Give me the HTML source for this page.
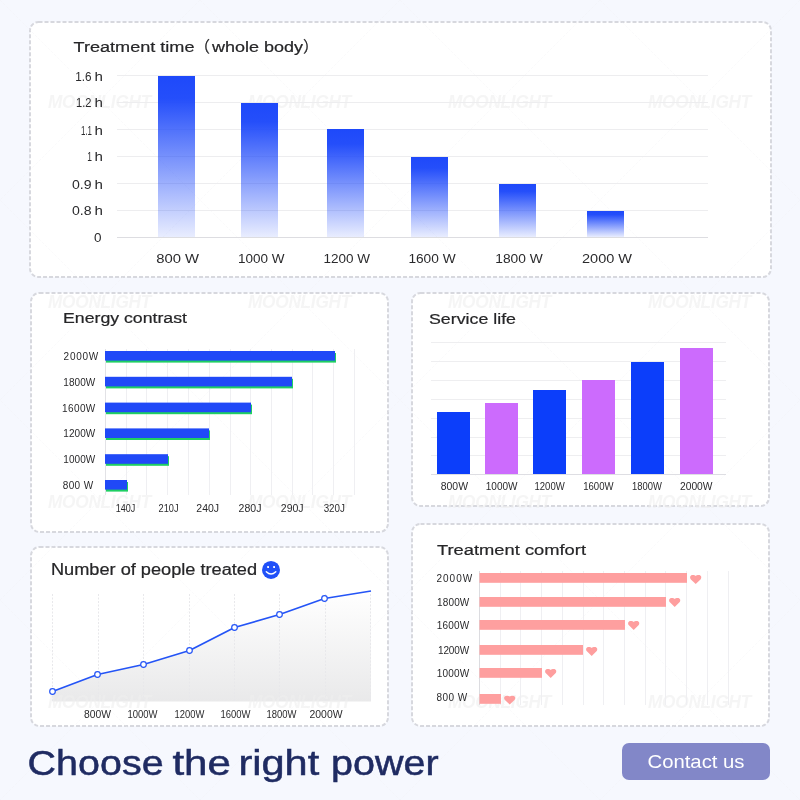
<!DOCTYPE html>
<html lang="en"><head><meta charset="utf-8"><title>Choose the right power</title>
<style>
html,body{margin:0;padding:0;background:#f6f8fe;}
body{width:800px;height:800px;overflow:hidden;position:relative;font-family:"Liberation Sans","Noto Sans CJK SC",sans-serif;}
svg{position:absolute;left:0;top:0;display:block}
text{font-family:"Liberation Sans","Noto Sans CJK SC",sans-serif;fill:#2a2a2c}
.wm{font-style:italic;font-weight:bold;font-size:19px;fill:#eeeeef;fill-opacity:0.6;letter-spacing:-0.3px}
.t{font-size:15.5px;fill:#262628;stroke:#262628;stroke-width:0.22px}
.s{font-size:10px;fill:#2a2a2c}
.m{font-size:13px;fill:#2a2a2c}
.card{fill:#fff;stroke:#d7d8de;stroke-width:2;stroke-dasharray:4 2}
.g{stroke:#ebebee;stroke-width:1}
</style></head><body>
<svg width="800" height="800" viewBox="0 0 800 800">
<defs>
<linearGradient id="bg" x1="0" y1="0" x2="0" y2="1"><stop offset="0" stop-color="#1e49fa"/><stop offset="0.14" stop-color="#1e49fa" stop-opacity="0.97"/><stop offset="1" stop-color="#1e49fa" stop-opacity="0.1"/></linearGradient>
<linearGradient id="ar" x1="0" y1="0" x2="0" y2="1"><stop offset="0" stop-color="#ffffff"/><stop offset="1" stop-color="#e9e9ea"/></linearGradient>
<path id="heart" d="M5.8 8.9 L1 4.3 C-0.4 2.8 0 0 2.9 0 C4.2 0 5.2 0.4 5.8 0.9 C6.4 0.4 7.4 0 8.7 0 C11.6 0 12 2.8 10.6 4.3 Z" fill="#fe9e9e"/>
</defs>
<rect width="800" height="800" fill="#f6f8fe"/>

<rect class="card" x="30" y="22" width="741" height="255" rx="8.5"/>
<rect class="card" x="31" y="293" width="357" height="239" rx="8.5"/>
<rect class="card" x="412" y="293" width="357" height="213" rx="8.5"/>
<rect class="card" x="31" y="547" width="357" height="179" rx="8.5"/>
<rect class="card" x="412" y="524" width="357" height="202" rx="8.5"/>
<g stroke="#eeeef3" stroke-opacity="0.3" stroke-width="1" fill="none" stroke-dasharray="3 1.5">
<path d="M-800 0 L0 800"/><path d="M0 0 L-800 800"/>
<path d="M-600 0 L200 800"/><path d="M200 0 L-600 800"/>
<path d="M-400 0 L400 800"/><path d="M400 0 L-400 800"/>
<path d="M-200 0 L600 800"/><path d="M600 0 L-200 800"/>
<path d="M0 0 L800 800"/><path d="M800 0 L0 800"/>
<path d="M200 0 L1000 800"/><path d="M1000 0 L200 800"/>
<path d="M400 0 L1200 800"/><path d="M1200 0 L400 800"/>
<path d="M600 0 L1400 800"/><path d="M1400 0 L600 800"/>
<path d="M800 0 L1600 800"/><path d="M1600 0 L800 800"/>
</g>
<path d="M52.5 691.5 L97.5 674.5 L143.5 664.5 L189.5 650.5 L234.5 627.5 L279.5 614.5 L324.5 598.5 L371 591 L371 701.5 L52.5 701.5 Z" fill="url(#ar)"/>
<text class="wm" x="48" y="107.5" textLength="103" lengthAdjust="spacingAndGlyphs">MOONLIGHT</text>
<text class="wm" x="248" y="107.5" textLength="103" lengthAdjust="spacingAndGlyphs">MOONLIGHT</text>
<text class="wm" x="448" y="107.5" textLength="103" lengthAdjust="spacingAndGlyphs">MOONLIGHT</text>
<text class="wm" x="648" y="107.5" textLength="103" lengthAdjust="spacingAndGlyphs">MOONLIGHT</text>
<text class="wm" x="48" y="307.5" textLength="103" lengthAdjust="spacingAndGlyphs">MOONLIGHT</text>
<text class="wm" x="248" y="307.5" textLength="103" lengthAdjust="spacingAndGlyphs">MOONLIGHT</text>
<text class="wm" x="448" y="307.5" textLength="103" lengthAdjust="spacingAndGlyphs">MOONLIGHT</text>
<text class="wm" x="648" y="307.5" textLength="103" lengthAdjust="spacingAndGlyphs">MOONLIGHT</text>
<text class="wm" x="48" y="507.5" textLength="103" lengthAdjust="spacingAndGlyphs">MOONLIGHT</text>
<text class="wm" x="248" y="507.5" textLength="103" lengthAdjust="spacingAndGlyphs">MOONLIGHT</text>
<text class="wm" x="448" y="507.5" textLength="103" lengthAdjust="spacingAndGlyphs">MOONLIGHT</text>
<text class="wm" x="648" y="507.5" textLength="103" lengthAdjust="spacingAndGlyphs">MOONLIGHT</text>
<text class="wm" x="48" y="707.5" textLength="103" lengthAdjust="spacingAndGlyphs">MOONLIGHT</text>
<text class="wm" x="248" y="707.5" textLength="103" lengthAdjust="spacingAndGlyphs">MOONLIGHT</text>
<text class="wm" x="448" y="707.5" textLength="103" lengthAdjust="spacingAndGlyphs">MOONLIGHT</text>
<text class="wm" x="648" y="707.5" textLength="103" lengthAdjust="spacingAndGlyphs">MOONLIGHT</text>
<text class="t" x="73.5" y="52" textLength="121" lengthAdjust="spacingAndGlyphs">Treatment time</text>
<text class="t" x="194.5" y="52">（</text>
<text class="t" x="212" y="52" textLength="91" lengthAdjust="spacingAndGlyphs">whole body</text>
<text class="t" x="303" y="52">）</text>
<line x1="117" x2="708" y1="75.5" y2="75.5" stroke="#ededef" stroke-width="1"/>
<text class="m" x="75.20" y="81" textLength="16.30" lengthAdjust="spacingAndGlyphs">1.6</text>
<text class="m" x="94.40" y="81" textLength="8.40" lengthAdjust="spacingAndGlyphs">h</text>
<line x1="117" x2="708" y1="102.5" y2="102.5" stroke="#ededef" stroke-width="1"/>
<text class="m" x="76.10" y="107" textLength="15.40" lengthAdjust="spacingAndGlyphs">1.2</text>
<text class="m" x="94.40" y="107" textLength="8.40" lengthAdjust="spacingAndGlyphs">h</text>
<line x1="117" x2="708" y1="129.5" y2="129.5" stroke="#ededef" stroke-width="1"/>
<text class="m" x="81.00" y="134.8" textLength="11.00" lengthAdjust="spacingAndGlyphs">1.1</text>
<text class="m" x="94.40" y="134.8" textLength="8.40" lengthAdjust="spacingAndGlyphs">h</text>
<line x1="117" x2="708" y1="156.5" y2="156.5" stroke="#ededef" stroke-width="1"/>
<text class="m" x="87.30" y="161" textLength="4.70" lengthAdjust="spacingAndGlyphs">1</text>
<text class="m" x="94.40" y="161" textLength="8.40" lengthAdjust="spacingAndGlyphs">h</text>
<line x1="117" x2="708" y1="183.5" y2="183.5" stroke="#ededef" stroke-width="1"/>
<text class="m" x="71.90" y="188.6" textLength="19.60" lengthAdjust="spacingAndGlyphs">0.9</text>
<text class="m" x="94.40" y="188.6" textLength="8.40" lengthAdjust="spacingAndGlyphs">h</text>
<line x1="117" x2="708" y1="210.5" y2="210.5" stroke="#ededef" stroke-width="1"/>
<text class="m" x="71.90" y="215" textLength="19.60" lengthAdjust="spacingAndGlyphs">0.8</text>
<text class="m" x="94.40" y="215" textLength="8.40" lengthAdjust="spacingAndGlyphs">h</text>
<line x1="117" x2="708" y1="237.5" y2="237.5" stroke="#dddde1" stroke-width="1"/>
<text class="m" x="93.90" y="241.8" textLength="7.50" lengthAdjust="spacingAndGlyphs">0</text>
<rect x="158" y="76" width="37" height="161" fill="url(#bg)"/>
<text class="m" x="156.2" y="263" textLength="42.9" lengthAdjust="spacingAndGlyphs">800 W</text>
<rect x="241" y="103" width="37" height="134" fill="url(#bg)"/>
<text class="m" x="238.10000000000002" y="263" textLength="46.5" lengthAdjust="spacingAndGlyphs">1000 W</text>
<rect x="327" y="129" width="37" height="108" fill="url(#bg)"/>
<text class="m" x="323.6" y="263" textLength="46.5" lengthAdjust="spacingAndGlyphs">1200 W</text>
<rect x="411" y="157" width="37" height="80" fill="url(#bg)"/>
<text class="m" x="408.4" y="263" textLength="47.2" lengthAdjust="spacingAndGlyphs">1600 W</text>
<rect x="499" y="184" width="37" height="53" fill="url(#bg)"/>
<text class="m" x="495.29999999999995" y="263" textLength="47.5" lengthAdjust="spacingAndGlyphs">1800 W</text>
<rect x="587" y="211" width="37" height="26" fill="url(#bg)"/>
<text class="m" x="582.0" y="263" textLength="50" lengthAdjust="spacingAndGlyphs">2000 W</text>
<text class="t" x="63" y="323" textLength="124" lengthAdjust="spacingAndGlyphs">Energy contrast</text>
<line x1="105.50" x2="105.50" y1="349" y2="495" stroke="#e2e2e6" stroke-width="1"/>
<line x1="126.50" x2="126.50" y1="349" y2="495" stroke="#efeff2" stroke-width="1"/>
<line x1="146.50" x2="146.50" y1="349" y2="495" stroke="#efeff2" stroke-width="1"/>
<line x1="167.50" x2="167.50" y1="349" y2="495" stroke="#efeff2" stroke-width="1"/>
<line x1="188.50" x2="188.50" y1="349" y2="495" stroke="#efeff2" stroke-width="1"/>
<line x1="209.50" x2="209.50" y1="349" y2="495" stroke="#efeff2" stroke-width="1"/>
<line x1="230.50" x2="230.50" y1="349" y2="495" stroke="#efeff2" stroke-width="1"/>
<line x1="250.50" x2="250.50" y1="349" y2="495" stroke="#efeff2" stroke-width="1"/>
<line x1="271.50" x2="271.50" y1="349" y2="495" stroke="#efeff2" stroke-width="1"/>
<line x1="292.50" x2="292.50" y1="349" y2="495" stroke="#efeff2" stroke-width="1"/>
<line x1="312.50" x2="312.50" y1="349" y2="495" stroke="#efeff2" stroke-width="1"/>
<line x1="333.50" x2="333.50" y1="349" y2="495" stroke="#efeff2" stroke-width="1"/>
<line x1="354.50" x2="354.50" y1="349" y2="495" stroke="#efeff2" stroke-width="1"/>
<rect x="106" y="353.0" width="230" height="9.6" fill="#1fcf62"/>
<rect x="105" y="351.0" width="230" height="9.6" fill="#2049f7"/>
<text class="s" x="63.6" y="360.0" textLength="34.6" lengthAdjust="spacing">2000W</text>
<rect x="106" y="378.8" width="187" height="9.6" fill="#1fcf62"/>
<rect x="105" y="376.8" width="187" height="9.6" fill="#2049f7"/>
<text class="s" x="63.3" y="385.8" textLength="32" lengthAdjust="spacing">1800W</text>
<rect x="106" y="404.6" width="146" height="9.6" fill="#1fcf62"/>
<rect x="105" y="402.6" width="146" height="9.6" fill="#2049f7"/>
<text class="s" x="62" y="411.6" textLength="33.3" lengthAdjust="spacing">1600W</text>
<rect x="106" y="430.4" width="104" height="9.6" fill="#1fcf62"/>
<rect x="105" y="428.4" width="104" height="9.6" fill="#2049f7"/>
<text class="s" x="63.3" y="437.4" textLength="32" lengthAdjust="spacing">1200W</text>
<rect x="106" y="456.2" width="63" height="9.6" fill="#1fcf62"/>
<rect x="105" y="454.2" width="63" height="9.6" fill="#2049f7"/>
<text class="s" x="63.3" y="463.2" textLength="32" lengthAdjust="spacing">1000W</text>
<rect x="106" y="482.0" width="22" height="9.6" fill="#1fcf62"/>
<rect x="105" y="480.0" width="22" height="9.6" fill="#2049f7"/>
<text class="s" x="62.7" y="489.0" textLength="30.5" lengthAdjust="spacing">800 W</text>
<text class="s" x="115.75" y="512" textLength="19.55" lengthAdjust="spacingAndGlyphs">140J</text>
<text class="s" x="158.60" y="512" textLength="19.90" lengthAdjust="spacingAndGlyphs">210J</text>
<text class="s" x="196.30" y="512" textLength="22.80" lengthAdjust="spacingAndGlyphs">240J</text>
<text class="s" x="238.60" y="512" textLength="22.80" lengthAdjust="spacingAndGlyphs">280J</text>
<text class="s" x="280.80" y="512" textLength="22.80" lengthAdjust="spacingAndGlyphs">290J</text>
<text class="s" x="323.70" y="512" textLength="21.20" lengthAdjust="spacingAndGlyphs">320J</text>
<text class="t" x="429" y="323.5" textLength="87" lengthAdjust="spacingAndGlyphs">Service life</text>
<line x1="431" x2="726" y1="342.5" y2="342.5" stroke="#eeeef0" stroke-width="1"/>
<line x1="431" x2="726" y1="361.5" y2="361.5" stroke="#eeeef0" stroke-width="1"/>
<line x1="431" x2="726" y1="380.5" y2="380.5" stroke="#eeeef0" stroke-width="1"/>
<line x1="431" x2="726" y1="399.5" y2="399.5" stroke="#eeeef0" stroke-width="1"/>
<line x1="431" x2="726" y1="418.5" y2="418.5" stroke="#eeeef0" stroke-width="1"/>
<line x1="431" x2="726" y1="437.5" y2="437.5" stroke="#eeeef0" stroke-width="1"/>
<line x1="431" x2="726" y1="455.5" y2="455.5" stroke="#eeeef0" stroke-width="1"/>
<line x1="431" x2="726" y1="474.5" y2="474.5" stroke="#dedee3" stroke-width="1"/>
<rect x="437" y="412" width="33" height="62" fill="#0c3efa"/>
<text class="s" x="440.75" y="490.3" textLength="27.25" lengthAdjust="spacingAndGlyphs">800W</text>
<rect x="485" y="403" width="33" height="71" fill="#cc6bfd"/>
<text class="s" x="485.75" y="490.3" textLength="31.75" lengthAdjust="spacingAndGlyphs">1000W</text>
<rect x="533" y="390" width="33" height="84" fill="#0c3efa"/>
<text class="s" x="534.50" y="490.3" textLength="30.20" lengthAdjust="spacingAndGlyphs">1200W</text>
<rect x="582" y="380" width="33" height="94" fill="#cc6bfd"/>
<text class="s" x="583.20" y="490.3" textLength="30.30" lengthAdjust="spacingAndGlyphs">1600W</text>
<rect x="631" y="362" width="33" height="112" fill="#0c3efa"/>
<text class="s" x="632.00" y="490.3" textLength="29.80" lengthAdjust="spacingAndGlyphs">1800W</text>
<rect x="680" y="348" width="33" height="126" fill="#cc6bfd"/>
<text class="s" x="680.00" y="490.3" textLength="32.50" lengthAdjust="spacingAndGlyphs">2000W</text>
<text class="t" style="font-size:16px" x="51" y="575" textLength="206" lengthAdjust="spacingAndGlyphs">Number of people treated</text>
<circle cx="271" cy="569.9" r="9" fill="#2050f8"/><rect x="267.2" y="566" width="1.8" height="1.9" rx="0.5" fill="#fff"/><rect x="273.2" y="566" width="1.8" height="1.9" rx="0.5" fill="#fff"/><path d="M266.3 571.7 Q271 576.4 275.8 571.7" stroke="#fff" stroke-width="1.4" fill="none" stroke-linecap="round"/>
<line x1="52.5" x2="52.5" y1="594" y2="701" stroke="#e8e8eb" stroke-width="1" stroke-dasharray="2 1.5"/>
<line x1="98.5" x2="98.5" y1="594" y2="701" stroke="#e8e8eb" stroke-width="1" stroke-dasharray="2 1.5"/>
<line x1="143.5" x2="143.5" y1="594" y2="701" stroke="#e8e8eb" stroke-width="1" stroke-dasharray="2 1.5"/>
<line x1="189.5" x2="189.5" y1="594" y2="701" stroke="#e8e8eb" stroke-width="1" stroke-dasharray="2 1.5"/>
<line x1="234.5" x2="234.5" y1="594" y2="701" stroke="#e8e8eb" stroke-width="1" stroke-dasharray="2 1.5"/>
<line x1="279.5" x2="279.5" y1="594" y2="701" stroke="#e8e8eb" stroke-width="1" stroke-dasharray="2 1.5"/>
<line x1="325.5" x2="325.5" y1="594" y2="701" stroke="#e8e8eb" stroke-width="1" stroke-dasharray="2 1.5"/>
<line x1="370.5" x2="370.5" y1="594" y2="701" stroke="#e8e8eb" stroke-width="1" stroke-dasharray="2 1.5"/>
<path d="M52.5 691.5 L97.5 674.5 L143.5 664.5 L189.5 650.5 L234.5 627.5 L279.5 614.5 L324.5 598.5 L371 591" fill="none" stroke="#2454f6" stroke-width="1.7" stroke-linejoin="round"/>
<circle cx="52.5" cy="691.5" r="2.8" fill="#fff" stroke="#2454f6" stroke-width="1.2"/>
<circle cx="97.5" cy="674.5" r="2.8" fill="#fff" stroke="#2454f6" stroke-width="1.2"/>
<circle cx="143.5" cy="664.5" r="2.8" fill="#fff" stroke="#2454f6" stroke-width="1.2"/>
<circle cx="189.5" cy="650.5" r="2.8" fill="#fff" stroke="#2454f6" stroke-width="1.2"/>
<circle cx="234.5" cy="627.5" r="2.8" fill="#fff" stroke="#2454f6" stroke-width="1.2"/>
<circle cx="279.5" cy="614.5" r="2.8" fill="#fff" stroke="#2454f6" stroke-width="1.2"/>
<circle cx="324.5" cy="598.5" r="2.8" fill="#fff" stroke="#2454f6" stroke-width="1.2"/>
<text class="s" x="84.00" y="717.8" textLength="27.00" lengthAdjust="spacingAndGlyphs">800W</text>
<text class="s" x="127.50" y="717.8" textLength="30.00" lengthAdjust="spacingAndGlyphs">1000W</text>
<text class="s" x="174.50" y="717.8" textLength="29.75" lengthAdjust="spacingAndGlyphs">1200W</text>
<text class="s" x="220.50" y="717.8" textLength="30.00" lengthAdjust="spacingAndGlyphs">1600W</text>
<text class="s" x="266.50" y="717.8" textLength="30.00" lengthAdjust="spacingAndGlyphs">1800W</text>
<text class="s" x="309.50" y="717.8" textLength="33.00" lengthAdjust="spacingAndGlyphs">2000W</text>
<text class="t" x="437" y="555" textLength="149" lengthAdjust="spacingAndGlyphs">Treatment comfort</text>
<line x1="479.50" x2="479.50" y1="571" y2="705" stroke="#dcdce0" stroke-width="1"/>
<line x1="500.50" x2="500.50" y1="571" y2="705" stroke="#efeff2" stroke-width="1"/>
<line x1="520.50" x2="520.50" y1="571" y2="705" stroke="#efeff2" stroke-width="1"/>
<line x1="541.50" x2="541.50" y1="571" y2="705" stroke="#efeff2" stroke-width="1"/>
<line x1="562.50" x2="562.50" y1="571" y2="705" stroke="#efeff2" stroke-width="1"/>
<line x1="583.50" x2="583.50" y1="571" y2="705" stroke="#efeff2" stroke-width="1"/>
<line x1="603.50" x2="603.50" y1="571" y2="705" stroke="#efeff2" stroke-width="1"/>
<line x1="624.50" x2="624.50" y1="571" y2="705" stroke="#efeff2" stroke-width="1"/>
<line x1="645.50" x2="645.50" y1="571" y2="705" stroke="#efeff2" stroke-width="1"/>
<line x1="665.50" x2="665.50" y1="571" y2="705" stroke="#efeff2" stroke-width="1"/>
<line x1="686.50" x2="686.50" y1="571" y2="705" stroke="#efeff2" stroke-width="1"/>
<line x1="707.50" x2="707.50" y1="571" y2="705" stroke="#efeff2" stroke-width="1"/>
<line x1="728.50" x2="728.50" y1="571" y2="705" stroke="#efeff2" stroke-width="1"/>
<rect x="479.5" y="573" width="207.5" height="9.8" fill="#fe9f9f"/>
<use href="#heart" x="689.9" y="575.1"/>
<text class="s" x="436.60" y="582.3" textLength="35.50" lengthAdjust="spacing">2000W</text>
<rect x="479.5" y="597" width="186.5" height="9.8" fill="#fe9f9f"/>
<use href="#heart" x="668.9" y="598"/>
<text class="s" x="437.00" y="606" textLength="32.30" lengthAdjust="spacing">1800W</text>
<rect x="479.5" y="620" width="145.5" height="9.8" fill="#fe9f9f"/>
<use href="#heart" x="627.9" y="621"/>
<text class="s" x="436.80" y="628.8" textLength="32.50" lengthAdjust="spacing">1600W</text>
<rect x="479.5" y="645" width="103.5" height="9.8" fill="#fe9f9f"/>
<use href="#heart" x="585.9" y="647"/>
<text class="s" x="437.90" y="654" textLength="31.40" lengthAdjust="spacing">1200W</text>
<rect x="479.5" y="668" width="62.5" height="9.8" fill="#fe9f9f"/>
<use href="#heart" x="544.9" y="669"/>
<text class="s" x="436.80" y="677" textLength="32.50" lengthAdjust="spacing">1000W</text>
<rect x="479.5" y="694" width="21.5" height="9.8" fill="#fe9f9f"/>
<use href="#heart" x="503.9" y="695.7"/>
<text class="s" x="436.60" y="701" textLength="30.50" lengthAdjust="spacing">800 W</text>
<text x="27.6" y="774.5" style="font-size:35px;fill:#1f2b62" textLength="136" lengthAdjust="spacingAndGlyphs" stroke="#1f2b62" stroke-width="0.5">Choose</text>
<text x="172.4" y="774.5" style="font-size:35px;fill:#1f2b62" textLength="58.5" lengthAdjust="spacingAndGlyphs" stroke="#1f2b62" stroke-width="0.5">the</text>
<text x="238.5" y="774.5" style="font-size:35px;fill:#1f2b62" textLength="80.7" lengthAdjust="spacingAndGlyphs" stroke="#1f2b62" stroke-width="0.5">right</text>
<text x="331" y="774.5" style="font-size:35px;fill:#1f2b62" textLength="107.6" lengthAdjust="spacingAndGlyphs" stroke="#1f2b62" stroke-width="0.5">power</text>
<rect x="622" y="743" width="148" height="37" rx="7" fill="#8287c8"/>
<text x="647.5" y="768" style="font-size:19px;fill:#fff" textLength="97" lengthAdjust="spacingAndGlyphs">Contact us</text>
</svg></body></html>
